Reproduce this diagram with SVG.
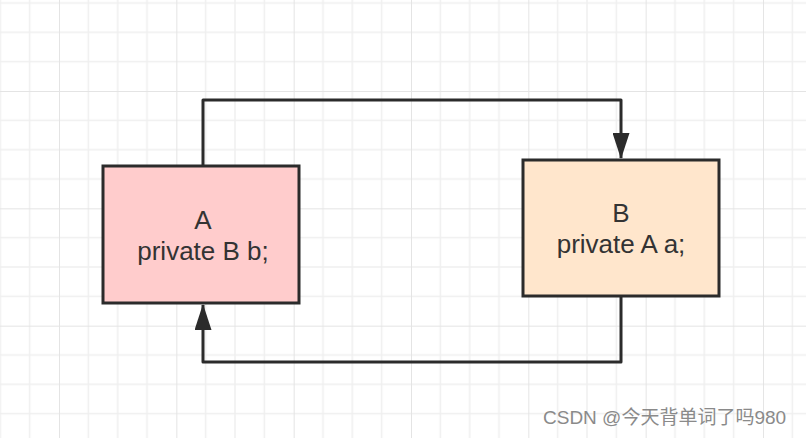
<svg xmlns="http://www.w3.org/2000/svg" width="806" height="438" viewBox="0 0 806 438">
  <defs>
    <pattern id="grid" patternUnits="userSpaceOnUse" x="59" y="91" width="117.33" height="117.33">
      <g stroke="#efefef" stroke-width="1.5" fill="none">
        <path d="M29.33 0V117.33M58.67 0V117.33M88 0V117.33M0 29.33H117.33M0 58.67H117.33M0 88H117.33"/>
      </g>
      <g stroke="#e4e4e4" stroke-width="2" fill="none">
        <path d="M0 0V117.33M0 0H117.33"/>
      </g>
    </pattern>
    <marker id="arrow" markerUnits="userSpaceOnUse" markerWidth="26" markerHeight="17" refX="25" refY="8.5" viewBox="0 0 26 17" orient="auto">
      <path d="M0 0L26 8.5L0 17Z" fill="#2b2b2b"/>
    </marker>
    <style>
      .box { stroke: #2b2b2b; stroke-width: 3; }
      .lbl { font-family: "Liberation Sans", Arial, sans-serif; font-size: 26px; fill: #333333; text-anchor: middle; }
      .edge { fill: none; stroke: #2b2b2b; stroke-width: 3; stroke-linejoin: round; }
    </style>
  </defs>
  <rect x="0" y="0" width="806" height="438" fill="#ffffff"/>
  <rect x="0" y="0" width="806" height="438" fill="url(#grid)"/>

  <g id="connectors">
    <path class="edge" d="M203 165V100H621V158" marker-end="url(#arrow)"/>
    <path class="edge" d="M621 297V362H203V305" marker-end="url(#arrow)"/>
  </g>

  <g id="nodeA">
    <rect class="box" x="103" y="166" width="196" height="137" fill="#ffcccc"/>
    <text class="lbl" x="203" y="229">A</text>
    <text class="lbl" x="203" y="260">private B b;</text>
  </g>

  <g id="nodeB">
    <rect class="box" x="523" y="160" width="196" height="136" fill="#ffe6cc"/>
    <text class="lbl" x="621" y="222">B</text>
    <text class="lbl" x="621" y="253">private A a;</text>
  </g>

  <text x="543" y="424" font-family="Liberation Sans, Noto Sans CJK SC, sans-serif" font-size="19" fill="#8a8a8a">CSDN @今天背单词了吗980</text>
</svg>
